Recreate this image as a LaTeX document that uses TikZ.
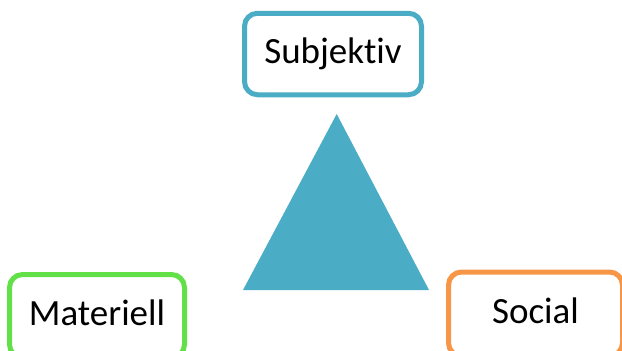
\documentclass[tikz,border=0pt]{standalone}
\usepackage{fontspec}
\setmainfont[Ligatures={NoCommon}]{Carlito}
\definecolor{topblue}{RGB}{75,172,198}
\definecolor{leafgreen}{RGB}{98,224,72}
\definecolor{warmorange}{RGB}{247,150,70}
\tikzset{
  corner/.style={draw, line width=5pt, rounded corners=13pt, fill=white,
    font=\fontsize{37}{44}\selectfont, text=black,
    text height=26pt, text depth=7pt, inner sep=0pt}
}
\begin{document}
\begin{tikzpicture}[x=1pt,y=1pt]
  \path[use as bounding box] (0,0) rectangle (622,-351);
  % central triangle
  \fill[topblue] (336.7,-114) -- (243,-290) -- (429,-290) -- cycle;
  % the three corner labels
  \node[corner, draw=topblue, minimum width=177pt, minimum height=81.5pt]
    (subj) at (333,-54) {Subjektiv};
  \node[corner, draw=leafgreen, minimum width=175pt, minimum height=83pt]
    (mat) at (97,-316) {Materiell};
  \node[corner, draw=warmorange, minimum width=174pt, minimum height=84pt]
    (soc) at (535.5,-314) {Social};
\end{tikzpicture}
\end{document}
